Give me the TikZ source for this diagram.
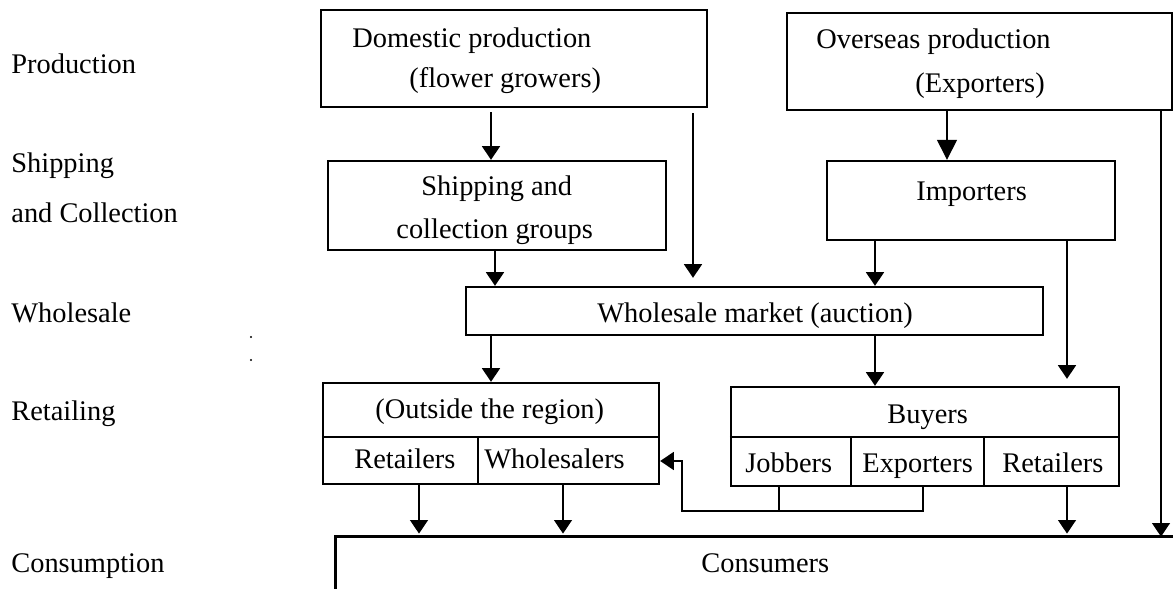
\documentclass[tikz,border=0pt]{standalone}
\usepackage{fontspec}
\setmainfont{Liberation Serif}
\usetikzlibrary{arrows.meta,fit}
\begin{document}
\begin{tikzpicture}[x=0.5pt,y=-0.5pt,
  box/.style={draw,line width=1.2pt,inner sep=0pt},
  lbl/.style={anchor=base west,inner sep=0pt,font=\fontsize{14.2pt}{16pt}\selectfont},
  conn/.style={line width=0.7pt},
  divl/.style={line width=0.8pt},
  arr/.style={conn,-{Triangle[width=9pt,length=6.8pt]}},
  bigarr/.style={conn,-{Triangle[width=10pt,length=10pt]}}]
\useasboundingbox (0,0) rectangle (1173,589);

% ---- boxes ----
\path (321,10) coordinate (dom-a) (707,107) coordinate (dom-b);
\node[box,fit=(dom-a)(dom-b)] (dom) {};
\path (328,161) coordinate (shp-a) (666,250) coordinate (shp-b);
\node[box,fit=(shp-a)(shp-b)] (shp) {};
\path (787,13) coordinate (ovs-a) (1172,110) coordinate (ovs-b);
\node[box,fit=(ovs-a)(ovs-b)] (ovs) {};
\path (827,161) coordinate (imp-a) (1115,240) coordinate (imp-b);
\node[box,fit=(imp-a)(imp-b)] (imp) {};
\path (466,287) coordinate (whl-a) (1043,335) coordinate (whl-b);
\node[box,fit=(whl-a)(whl-b)] (whl) {};
\path (323,383) coordinate (out-a) (659,484) coordinate (out-b);
\node[box,fit=(out-a)(out-b)] (out) {};
\path (731,387) coordinate (buy-a) (1119,486) coordinate (buy-b);
\node[box,fit=(buy-a)(buy-b)] (buy) {};
\path (336,537) coordinate (con-a) (1173,589) coordinate (con-b);
\node[fit=(con-a)(con-b),inner sep=0pt] (con) {};
\draw[line width=1.2pt] (con.south west) -- (con.north west) -- (con.north east);

% ---- helper coordinates ----
\coordinate (cA) at (491,0);
\coordinate (cB) at (495,0);
\coordinate (cC) at (693,0);
\coordinate (cD) at (947,0);
\coordinate (cE) at (875,0);
\coordinate (cF) at (1067,0);
\coordinate (cG) at (1161,0);
\coordinate (cH) at (419,0);
\coordinate (cI) at (563,0);
\coordinate (cJ) at (779,0);
\coordinate (cK) at (923,0);
\coordinate (cL) at (682,0);
\coordinate (cM) at (478,0);
\coordinate (cN) at (851,0);
\coordinate (cO) at (984,0);
\coordinate (yDiv) at (0,437);
\coordinate (yFb) at (0,511);
\coordinate (yFa) at (0,461);

% ---- dividers ----
\draw[divl] (out.west |- yDiv) -- (out.east |- yDiv);
\draw[divl] (cM |- yDiv) -- (cM |- out.south);
\draw[divl] (buy.west |- yDiv) -- (buy.east |- yDiv);
\draw[divl] (cN |- yDiv) -- (cN |- buy.south);
\draw[divl] (cO |- yDiv) -- (cO |- buy.south);

% ---- connectors ----
\draw[arr,shorten <=2pt] (dom.south -| cA) -- (shp.north -| cA);
\draw[arr] (shp.south -| cB) -- (whl.north -| cB);
\draw[arr,shorten <=2.5pt,shorten >=4pt] (dom.south -| cC) -- (whl.north -| cC);
\draw[bigarr] (ovs.south -| cD) -- (imp.north -| cD);
\draw[arr] (imp.south -| cE) -- (whl.north -| cE);
\draw[arr,shorten >=3.5pt] (imp.south -| cF) -- (buy.north -| cF);
\draw[arr] (ovs.south -| cG) -- (con.north -| cG);
\draw[arr] (whl.south -| cA) -- (out.north -| cA);
\draw[arr] (whl.south -| cE) -- (buy.north -| cE);
\draw[arr,shorten >=1.5pt] (out.south -| cH) -- (con.north -| cH);
\draw[arr,shorten >=1.5pt] (out.south -| cI) -- (con.north -| cI);
\draw[arr,shorten >=1.5pt] (buy.south -| cF) -- (con.north -| cF);
\draw[conn] (buy.south -| cJ) -- (cJ |- yFb);
\draw[arr] (buy.south -| cK) -- (cK |- yFb) -- (cL |- yFb) -- (cL |- yFa) -- (out.east |- yFa);

% ---- box texts ----
\node[lbl] (t1) at (352,47) {Domestic production};
\node[lbl] (t2) at (409,87) {(flower growers)};
\node[lbl] (t3) at (421,195) {Shipping and};
\node[lbl] (t4) at (396,238) {collection groups};
\node[lbl] (t5) at (816,48) {Overseas production};
\node[lbl] (t6) at (915,92) {(Exporters)};
\node[lbl] (t7) at (916,200) {Importers};
\node[lbl] (t8) at (597,322) {Wholesale market (auction)};
\node[lbl] (t9) at (375,418) {(Outside the region)};
\node[lbl] (t10) at (354,468) {Retailers};
\node[lbl] (t11) at (484,468) {Wholesalers};
\node[lbl] (t12) at (887,423) {Buyers};
\node[lbl] (t13) at (745,472) {Jobbers};
\node[lbl] (t14) at (862,472) {Exporters};
\node[lbl] (t15) at (1002,472) {Retailers};
\node[lbl] (t16) at (701,572) {Consumers};

% ---- stage labels ----
\node[lbl] (s1) at (11,73) {Production};
\node[lbl] (s2) at (11,172) {Shipping};
\node[lbl] (s3) at (11,222) {and Collection};
\node[lbl] (s4) at (11,322) {Wholesale};
\node[lbl] (s5) at (11,420) {Retailing};
\node[lbl] (s6) at (11,572) {Consumption};

% ---- stray dots ----
\fill (251,337) circle[radius=1.2];
\fill (251,360) circle[radius=1.2];
\end{tikzpicture}
\end{document}
